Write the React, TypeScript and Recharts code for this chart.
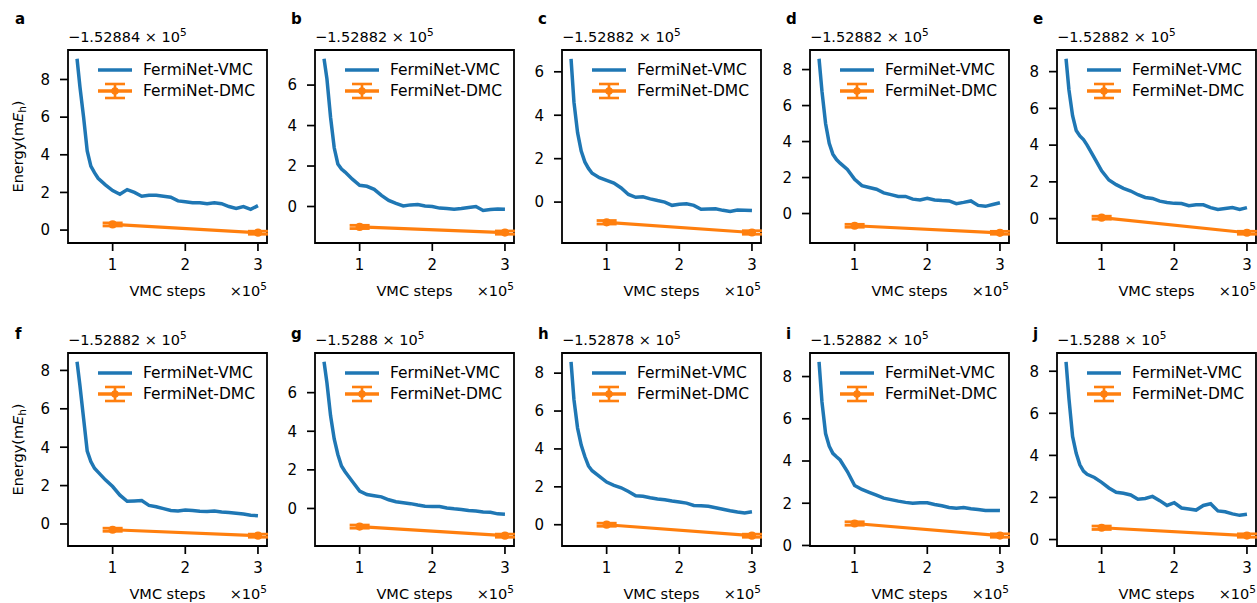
import { LineChart, Line, XAxis, YAxis, ErrorBar, ReferenceArea, Legend } from "recharts";

// VMC steps (×10^5)
const vmcSteps = [0.51, 0.55, 0.6, 0.65, 0.7, 0.75, 0.8, 0.9, 1.0, 1.1, 1.2, 1.3, 1.4, 1.5, 1.6, 1.7, 1.8, 1.9, 2.0, 2.1, 2.2, 2.3, 2.4, 2.5, 2.6, 2.7, 2.8, 2.9, 3.0];

// FermiNet-VMC energy (mEh, relative to panel offset)
const vmcA = [9.1, 7.6, 6.0, 4.2, 3.4, 3.05, 2.75, 2.4, 2.1, 1.9, 2.15, 2.0, 1.8, 1.85, 1.85, 1.8, 1.75, 1.55, 1.5, 1.45, 1.45, 1.4, 1.45, 1.4, 1.25, 1.15, 1.25, 1.1, 1.3];
const vmcB = [7.3, 6.3, 4.4, 2.9, 2.1, 1.85, 1.7, 1.35, 1.05, 1.0, 0.85, 0.55, 0.3, 0.15, 0.03, 0.08, 0.1, 0.03, 0.0, -0.08, -0.1, -0.13, -0.1, -0.05, 0.0, -0.2, -0.15, -0.12, -0.13];
const vmcC = [6.6, 4.6, 3.2, 2.35, 1.85, 1.55, 1.33, 1.12, 1.0, 0.88, 0.65, 0.35, 0.22, 0.24, 0.15, 0.07, 0.0, -0.15, -0.1, -0.08, -0.15, -0.33, -0.32, -0.31, -0.38, -0.43, -0.37, -0.38, -0.39];
const vmcD = [8.6, 6.8, 5.0, 3.9, 3.3, 3.0, 2.8, 2.45, 1.9, 1.55, 1.45, 1.35, 1.15, 1.05, 0.95, 0.95, 0.8, 0.75, 0.85, 0.75, 0.72, 0.7, 0.55, 0.62, 0.7, 0.45, 0.4, 0.5, 0.6];
const vmcE = [8.7, 7.0, 5.6, 4.8, 4.5, 4.3, 4.0, 3.3, 2.6, 2.1, 1.85, 1.65, 1.5, 1.3, 1.15, 1.1, 0.95, 0.88, 0.83, 0.82, 0.7, 0.75, 0.75, 0.6, 0.5, 0.55, 0.6, 0.5, 0.6];
const vmcF = [8.45, 7.2, 5.5, 3.8, 3.25, 2.9, 2.7, 2.3, 1.95, 1.5, 1.18, 1.2, 1.22, 0.97, 0.9, 0.8, 0.7, 0.68, 0.73, 0.7, 0.66, 0.65, 0.67, 0.62, 0.6, 0.56, 0.52, 0.46, 0.43];
const vmcG = [7.6, 6.5, 4.8, 3.6, 2.8, 2.2, 1.9, 1.4, 0.9, 0.72, 0.66, 0.6, 0.45, 0.35, 0.3, 0.25, 0.18, 0.12, 0.1, 0.1, 0.02, -0.02, -0.05, -0.1, -0.13, -0.18, -0.2, -0.28, -0.3];
const vmcH = [8.6, 6.6, 5.1, 4.2, 3.6, 3.1, 2.85, 2.55, 2.25, 2.08, 1.95, 1.75, 1.53, 1.5, 1.42, 1.36, 1.32, 1.25, 1.2, 1.14, 1.02, 1.0, 0.97, 0.9, 0.82, 0.74, 0.67, 0.62, 0.68];
const vmcI = [8.7, 6.8, 5.3, 4.7, 4.36, 4.2, 4.05, 3.5, 2.84, 2.65, 2.52, 2.38, 2.24, 2.17, 2.1, 2.04, 2.0, 2.02, 2.02, 1.94, 1.88, 1.8, 1.76, 1.8, 1.74, 1.7, 1.66, 1.66, 1.65];
const vmcJ = [8.45, 6.7, 4.9, 4.1, 3.55, 3.25, 3.1, 2.95, 2.72, 2.45, 2.25, 2.2, 2.12, 1.92, 1.95, 2.05, 1.85, 1.62, 1.75, 1.5, 1.45, 1.4, 1.62, 1.7, 1.36, 1.32, 1.22, 1.15, 1.2];

// FermiNet-DMC energies at 1e5 and 3e5 steps
const dmcSteps = [1, 3];
const dmcErr = [0.08, 0.08];
const dmcA = [0.3, -0.14];
const dmcB = [-1.01, -1.29];
const dmcC = [-0.93, -1.4];
const dmcD = [-0.68, -1.07];
const dmcE = [0.05, -0.77];
const dmcF = [-0.3, -0.61];
const dmcG = [-0.94, -1.41];
const dmcH = [0.0, -0.58];
const dmcI = [1.04, 0.47];
const dmcJ = [0.56, 0.19];

const letters = ["a", "b", "c", "d", "e", "f", "g", "h", "i", "j"];
const offsets = ["−1.52884", "−1.52882", "−1.52882", "−1.52882", "−1.52882", "−1.52882", "−1.5288", "−1.52878", "−1.52882", "−1.5288"];
const seriesNames = ["FermiNet-VMC", "FermiNet-DMC"];
const xTicks = [1, 2, 3];
const yTicks8 = [0, 2, 4, 6, 8];
const yTicks6 = [0, 2, 4, 6];

const panels = [
  { vmc: vmcA, dmc: dmcA, ticks: yTicks8 },
  { vmc: vmcB, dmc: dmcB, ticks: yTicks6 },
  { vmc: vmcC, dmc: dmcC, ticks: yTicks6 },
  { vmc: vmcD, dmc: dmcD, ticks: yTicks8 },
  { vmc: vmcE, dmc: dmcE, ticks: yTicks8 },
  { vmc: vmcF, dmc: dmcF, ticks: yTicks8 },
  { vmc: vmcG, dmc: dmcG, ticks: yTicks6 },
  { vmc: vmcH, dmc: dmcH, ticks: yTicks8 },
  { vmc: vmcI, dmc: dmcI, ticks: yTicks8 },
  { vmc: vmcJ, dmc: dmcJ, ticks: yTicks8 },
];

const FONT = "'DejaVu Sans', sans-serif";
const BLUE = "#1f77b4";
const ORANGE = "#ff7f0e";
const PW = 199;
const PH = 193;
const colLeft = [68, 315, 562, 810, 1057];
const rowTop = [50, 353];
const letterBase = [24, 339];

// matplotlib-like 5% margins
function pad(lo: number, hi: number): [number, number] {
  const m = (hi - lo) * 0.05;
  return [lo - m, hi + m];
}

const xDomain = pad(Math.min(...vmcSteps), Math.max(...vmcSteps));

const renderLegend = (props: any) => {
  const payload = [...(props.payload || [])].sort(
    (a: any, b: any) => seriesNames.indexOf(a.value) - seriesNames.indexOf(b.value)
  );
  return (
    <div style={{ fontFamily: FONT, fontSize: 15.5, color: "#000" }}>
      {payload.map((e: any) => (
        <div key={e.value} style={{ display: "flex", alignItems: "center", height: 21.5, whiteSpace: "nowrap" }}>
          <svg width={45} height={22} style={{ display: "block" }}>
            <line x1={0} y1={11} x2={34} y2={11} stroke={e.color} strokeWidth={3.4} />
            {e.value === "FermiNet-DMC" && (
              <g stroke={e.color} strokeWidth={2.6}>
                <line x1={17} y1={4} x2={17} y2={18} />
                <line x1={7} y1={4} x2={27} y2={4} />
                <line x1={7} y1={18} x2={27} y2={18} />
                <circle cx={17} cy={11} r={2.5} fill={e.color} />
              </g>
            )}
          </svg>
          <span>{e.value}</span>
        </div>
      ))}
    </div>
  );
};

function Panel({ idx }: { idx: number }) {
  const p = panels[idx];
  const col = idx % 5;
  const row = Math.floor(idx / 5);
  const vmcData = vmcSteps.map((x, i) => ({ x, y: p.vmc[i] }));
  const dmcData = dmcSteps.map((x, i) => ({ x, y: p.dmc[i], err: dmcErr[i] }));
  const lo = Math.min(...p.vmc, ...p.dmc.map((v, i) => v - dmcErr[i]));
  const hi = Math.max(...p.vmc, ...p.dmc.map((v, i) => v + dmcErr[i]));
  const yDomain = pad(lo, hi);
  const tickStyle = { fill: "#000", fontSize: 15, fontFamily: FONT };
  return (
    <div style={{ position: "absolute", left: colLeft[col] - 60, top: rowTop[row] - 10 }}>
      <LineChart width={PW + 70} height={PH + 50} margin={{ top: 10, right: 10, bottom: 0, left: 0 }}>
        <XAxis
          dataKey="x"
          type="number"
          domain={xDomain}
          ticks={xTicks}
          allowDataOverflow
          interval={0}
          height={40}
          tickSize={8}
          tickMargin={8}
          axisLine={false}
          tickLine={{ stroke: "#000", strokeWidth: 1.7 }}
          tick={tickStyle}
        />
        <YAxis
          type="number"
          domain={yDomain}
          ticks={p.ticks}
          allowDataOverflow
          interval={0}
          width={60}
          tickSize={8}
          tickMargin={10}
          axisLine={false}
          tickLine={{ stroke: "#000", strokeWidth: 1.7 }}
          tick={tickStyle}
        />
        <ReferenceArea
          x1={xDomain[0]}
          x2={xDomain[1]}
          y1={yDomain[0]}
          y2={yDomain[1]}
          fill="none"
          stroke="#000"
          strokeWidth={1.8}
          ifOverflow="visible"
        />
        <Line
          data={vmcData}
          dataKey="y"
          name={seriesNames[0]}
          stroke={BLUE}
          strokeWidth={3.5}
          dot={false}
          isAnimationActive={false}
        />
        <Line
          data={dmcData}
          dataKey="y"
          name={seriesNames[1]}
          stroke={ORANGE}
          strokeWidth={3.2}
          dot={{ r: 2.5, fill: ORANGE, stroke: ORANGE }}
          isAnimationActive={false}
        >
          <ErrorBar dataKey="err" width={10} strokeWidth={2.8} stroke={ORANGE} direction="y" />
        </Line>
        <Legend
          layout="vertical"
          align="center"
          verticalAlign="middle"
          content={renderLegend}
          wrapperStyle={{ left: 90, top: 19, width: "auto", height: "auto" }}
        />
      </LineChart>
    </div>
  );
}

function Texts() {
  return (
    <svg width={1257} height={603} style={{ position: "absolute", left: 0, top: 0, pointerEvents: "none" }}>
      <g fontFamily={FONT} fill="#000" fontSize={14.5}>
        {letters.map((l, idx) => {
          const col = idx % 5;
          const row = Math.floor(idx / 5);
          const left = colLeft[col];
          const top = rowTop[row];
          return (
            <g key={l}>
              <text x={col === 0 ? 15 : left - 24} y={letterBase[row]} fontWeight="bold" fontSize={15}>
                {l}
              </text>
              <text x={left} y={top - 8.3}>
                {offsets[idx]} × 10
                <tspan dy={-6} fontSize={10.5}>5</tspan>
              </text>
              <text x={left + PW / 2} y={top + PH + 53} textAnchor="middle">
                VMC steps
              </text>
              <text x={left + PW} y={top + PH + 53} textAnchor="end">
                ×10
                <tspan dy={-6} fontSize={10.5}>5</tspan>
              </text>
              {col === 0 && (
                <text transform={`translate(23, ${top + PH / 2}) rotate(-90)`} textAnchor="middle">
                  Energy(m<tspan fontStyle="italic">E</tspan>
                  <tspan dy={3} fontSize={10.5}>h</tspan>
                  <tspan dy={-3}>)</tspan>
                </text>
              )}
            </g>
          );
        })}
      </g>
    </svg>
  );
}

export default function App() {
  return (
    <div style={{ position: "absolute", left: 0, top: 0, width: 1257, height: 603, background: "#fff", overflow: "hidden" }}>
      {panels.map((_, i) => (
        <Panel key={i} idx={i} />
      ))}
      <Texts />
    </div>
  );
}
